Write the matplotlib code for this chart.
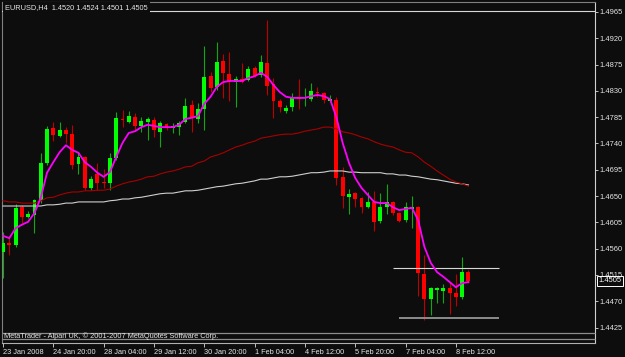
import matplotlib
matplotlib.use('Agg')
import matplotlib.pyplot as plt
import matplotlib.transforms as mtransforms
from matplotlib.patches import Rectangle

# EURUSD H4 candles, 23 Jan 2008 .. 8 Feb 2008
opens = [1.4554, 1.4570, 1.4566, 1.4631, 1.4614, 1.4618, 1.4643, 1.4707, 1.4767, 1.4753,
         1.4763, 1.4756, 1.4705, 1.4717, 1.4664, 1.4688, 1.4674, 1.4672, 1.4715, 1.4782,
         1.4777, 1.4785, 1.4770, 1.4777, 1.4780, 1.4760, 1.4773, 1.4767, 1.4768, 1.4777,
         1.4806, 1.4782, 1.4799, 1.4855, 1.4837, 1.4881, 1.4859, 1.4845, 1.4850, 1.4849,
         1.4869, 1.4857, 1.4878, 1.4842, 1.4813, 1.4796, 1.4802, 1.4820, 1.4818, 1.4816,
         1.4828, 1.4826, 1.4813, 1.4814, 1.4683, 1.4648, 1.4655, 1.4647, 1.4631, 1.4640,
         1.4607, 1.4631, 1.4640, 1.4621, 1.4609, 1.4628, 1.4631, 1.4517, 1.4474, 1.4489,
         1.4488, 1.4493, 1.4484, 1.4477, 1.4520]
highs = [1.4589, 1.4578, 1.4636, 1.4635, 1.4624, 1.4645, 1.4724, 1.4770, 1.4777, 1.4777,
         1.4768, 1.4772, 1.4725, 1.4719, 1.4684, 1.4707, 1.4696, 1.4724, 1.4794, 1.4797,
         1.4796, 1.4792, 1.4785, 1.4785, 1.4785, 1.4778, 1.4775, 1.4775, 1.4778, 1.4818,
         1.4814, 1.4809, 1.4907, 1.4862, 1.4914, 1.4893, 1.4897, 1.4855, 1.4878, 1.4873,
         1.4873, 1.4891, 1.4951, 1.4852, 1.4816, 1.4806, 1.4826, 1.4850, 1.4835, 1.4843,
         1.4837, 1.4828, 1.4823, 1.4820, 1.4700, 1.4662, 1.4657, 1.4648, 1.4657, 1.4659,
         1.4655, 1.4671, 1.4641, 1.4623, 1.4640, 1.4650, 1.4633, 1.4549, 1.4494, 1.4494,
         1.4500, 1.4501, 1.4517, 1.4546, 1.4524]
lows = [1.4510, 1.4549, 1.4563, 1.4604, 1.4613, 1.4587, 1.4638, 1.4703, 1.4744, 1.4751,
        1.4741, 1.4696, 1.4688, 1.4660, 1.4660, 1.4660, 1.4664, 1.4660, 1.4712, 1.4768,
        1.4775, 1.4763, 1.4760, 1.4746, 1.4751, 1.4734, 1.4763, 1.4758, 1.4755, 1.4775,
        1.4760, 1.4775, 1.4763, 1.4828, 1.4832, 1.4818, 1.4813, 1.4802, 1.4843, 1.4847,
        1.4854, 1.4854, 1.4823, 1.4784, 1.4794, 1.4792, 1.4796, 1.4799, 1.4804, 1.4813,
        1.4820, 1.4809, 1.4811, 1.4669, 1.4630, 1.4619, 1.4631, 1.4621, 1.4630, 1.4590,
        1.4604, 1.4619, 1.4618, 1.4606, 1.4606, 1.4595, 1.4479, 1.4438, 1.4447, 1.4467,
        1.4467, 1.4448, 1.4462, 1.4474, 1.4501]
closes = [1.4570, 1.4566, 1.4630, 1.4614, 1.4619, 1.4643, 1.4707, 1.4765, 1.4755, 1.4763,
          1.4756, 1.4703, 1.4717, 1.4664, 1.4679, 1.4672, 1.4672, 1.4715, 1.4784, 1.4780,
          1.4787, 1.4770, 1.4778, 1.4782, 1.4763, 1.4775, 1.4768, 1.4770, 1.4775, 1.4804,
          1.4784, 1.4799, 1.4854, 1.4835, 1.4879, 1.4861, 1.4845, 1.4850, 1.4845, 1.4867,
          1.4855, 1.4879, 1.4838, 1.4813, 1.4802, 1.4801, 1.4820, 1.4816, 1.4820, 1.4830,
          1.4826, 1.4814, 1.4816, 1.4681, 1.4650, 1.4654, 1.4645, 1.4631, 1.4640, 1.4606,
          1.4631, 1.4640, 1.4621, 1.4607, 1.4631, 1.4631, 1.4518, 1.4474, 1.4493, 1.4493,
          1.4493, 1.4484, 1.4477, 1.4520, 1.4505]

# indicator lines as shown on the chart
ma_fast = [1.4582, 1.4578, 1.4595, 1.4601, 1.4606, 1.4621, 1.4647, 1.4690, 1.4708, 1.4725,
           1.4737, 1.4729, 1.4724, 1.4708, 1.4700, 1.4690, 1.4683, 1.4691, 1.4717, 1.4741,
           1.4758, 1.4761, 1.4768, 1.4772, 1.4770, 1.4768, 1.4768, 1.4768, 1.4772, 1.4782,
           1.4784, 1.4787, 1.4808, 1.4820, 1.4837, 1.4845, 1.4847, 1.4847, 1.4847, 1.4852,
           1.4855, 1.4861, 1.4854, 1.4840, 1.4828, 1.4820, 1.4818, 1.4818, 1.4818, 1.4821,
           1.4823, 1.4821, 1.4816, 1.4785, 1.4741, 1.4707, 1.4681, 1.4664, 1.4652, 1.4640,
           1.4638, 1.4638, 1.4631, 1.4626, 1.4628, 1.4630, 1.4609, 1.4563, 1.4536, 1.4520,
           1.4512, 1.4503, 1.4494, 1.4501, 1.4503]
ma_mid = [1.4642, 1.4640, 1.4640, 1.4638, 1.4638, 1.4638, 1.4642, 1.4647, 1.4648, 1.4652,
          1.4655, 1.4657, 1.4657, 1.4659, 1.4659, 1.4660, 1.4660, 1.4662, 1.4667, 1.4671,
          1.4674, 1.4676, 1.4679, 1.4683, 1.4684, 1.4688, 1.4691, 1.4693, 1.4696, 1.4700,
          1.4701, 1.4707, 1.4710, 1.4717, 1.4720, 1.4724, 1.4729, 1.4734, 1.4737, 1.4741,
          1.4744, 1.4749, 1.4751, 1.4753, 1.4755, 1.4756, 1.4756, 1.4758, 1.4761, 1.4763,
          1.4765, 1.4768, 1.4768, 1.4765, 1.4760, 1.4758, 1.4755, 1.4751, 1.4748, 1.4743,
          1.4739, 1.4736, 1.4734, 1.4729, 1.4725, 1.4724, 1.4717, 1.4708, 1.4701, 1.4693,
          1.4686, 1.4679, 1.4674, 1.4671, 1.4667]
ma_slow = [1.4633, 1.4633, 1.4633, 1.4633, 1.4633, 1.4633, 1.4633, 1.4635, 1.4635, 1.4636,
           1.4638, 1.4638, 1.4640, 1.4640, 1.4640, 1.4640, 1.4640, 1.4642, 1.4643, 1.4645,
           1.4645, 1.4647, 1.4648, 1.4650, 1.4652, 1.4654, 1.4655, 1.4655, 1.4657, 1.4659,
           1.4659, 1.4660, 1.4662, 1.4664, 1.4666, 1.4667, 1.4669, 1.4671, 1.4672, 1.4674,
           1.4676, 1.4679, 1.4679, 1.4681, 1.4683, 1.4683, 1.4684, 1.4686, 1.4688, 1.4690,
           1.4690, 1.4691, 1.4693, 1.4693, 1.4693, 1.4691, 1.4691, 1.4690, 1.4690, 1.4690,
           1.4690, 1.4688, 1.4688, 1.4686, 1.4686, 1.4684, 1.4683, 1.4681, 1.4679, 1.4678,
           1.4676, 1.4674, 1.4672, 1.4671, 1.4669]

# hand drawn horizontal lines (price, from bar, to bar)
hline_levels = [1.4527, 1.4441]
hline_from = [62.0, 63.0]
hline_to = [78.9, 78.9]
top_level = 1.4967

time_labels = ['23 Jan 2008', '24 Jan 20:00', '28 Jan 04:00', '29 Jan 12:00', '30 Jan 20:00',
               '1 Feb 04:00', '4 Feb 12:00', '5 Feb 20:00', '7 Feb 04:00', '8 Feb 12:00']
label_bars = [0, 8, 16, 24, 32, 40, 48, 56, 64, 72]
price_ticks = [1.4965, 1.4920, 1.4875, 1.4830, 1.4785, 1.4740, 1.4695,
               1.4650, 1.4605, 1.4560, 1.4515, 1.4470, 1.4425]

symbol = 'EURUSD,H4'
copyright_txt = 'MetaTrader - Alpari UK, \u00a9 2001-2007 MetaQuotes Software Corp.'

bg = '#0d0d0d'
txt_col = '#e6e6e6'
plt.rcParams['font.family'] = ['Liberation Sans', 'DejaVu Sans']

W, H = 625, 357
fig = plt.figure(figsize=(W / 100, H / 100), dpi=100, facecolor=bg)
ax = fig.add_axes([2 / W, 14 / H, 593 / W, 341 / H])
ax.set_facecolor(bg)
ax.set_xlim(-0.16, 94.12)
ax.set_ylim(1.43986, 1.49821)

body_w = 0.62
for i in range(len(closes)):
    o, h, l, c = opens[i], highs[i], lows[i], closes[i]
    up = c >= o
    ax.vlines(i, l, h, color='#10a810' if up else '#c00000', lw=0.8, zorder=2)
    ax.add_patch(Rectangle((i - body_w / 2, min(o, c)), body_w, max(abs(c - o), 0.00012),
                           facecolor='#00ff00' if up else '#ff0000', edgecolor='none', zorder=3))

bars = list(range(len(closes)))
ax.plot(bars, ma_slow, color='#cfcfcf', lw=0.8, zorder=4)
ax.plot(bars, ma_mid, color='#a80000', lw=0.8, zorder=4)
ax.plot(bars, ma_fast, color='#ff00ff', lw=1.3, zorder=5)

ax.hlines(hline_levels, hline_from, hline_to, colors=['#d8d8d8', '#8c8c8c'],
          linewidths=[0.8, 1.4], zorder=4)
ax.axhline(top_level, color='#d8d8d8', lw=0.8, zorder=4)

# axes look
for side, col in [('left', '#808080'), ('top', '#808080'), ('right', '#d0d0d0'), ('bottom', '#b0b0b0')]:
    ax.spines[side].set_color(col)
    ax.spines[side].set_linewidth(0.8)

ax.yaxis.tick_right()
ax.set_yticks(price_ticks)
ax.set_yticklabels([f'{p:.4f}' for p in price_ticks])
ax.tick_params(axis='y', length=2, width=0.7, color='#c0c0c0', labelcolor=txt_col,
               labelsize=5.4, pad=1)
ax.set_xticks(label_bars)
ax.set_xticklabels(time_labels, ha='left')
ax.tick_params(axis='x', length=3, width=0.7, color='#c0c0c0', labelcolor=txt_col,
               labelsize=5.3, pad=1.2)

# current price box
trans = mtransforms.blended_transform_factory(ax.transAxes, ax.transData)
trans = mtransforms.offset_copy(trans, fig=fig, x=3.5, y=0, units='dots')
ax.text(1.0, closes[-1], f'{closes[-1]:.4f}', transform=trans, ha='left', va='center',
        fontsize=5.4, color='white', clip_on=False, zorder=10,
        bbox=dict(facecolor=bg, edgecolor='white', lw=0.7, pad=0.9))

# overlay in pixel coords for title and copyright strip
deco = fig.add_axes([0, 0, 1, 1], zorder=5)
deco.set_xlim(0, W)
deco.set_ylim(H, 0)
deco.axis('off')

title = f'{symbol}  {opens[-1]:.4f} {highs[-1]:.4f} {lows[-1]:.4f} {closes[-1]:.4f}'
deco.text(5, 8, title, color=txt_col, fontsize=5.3, va='center', ha='left',
          bbox=dict(facecolor=bg, edgecolor='none', pad=1.6))

deco.hlines([332.5, 338.5], 2, 595, color='#8c8c8c', lw=0.9)
deco.text(4, 336, copyright_txt, color=txt_col, fontsize=5.3, va='center', ha='left')

fig.savefig('out.png', dpi=100, facecolor=bg)
